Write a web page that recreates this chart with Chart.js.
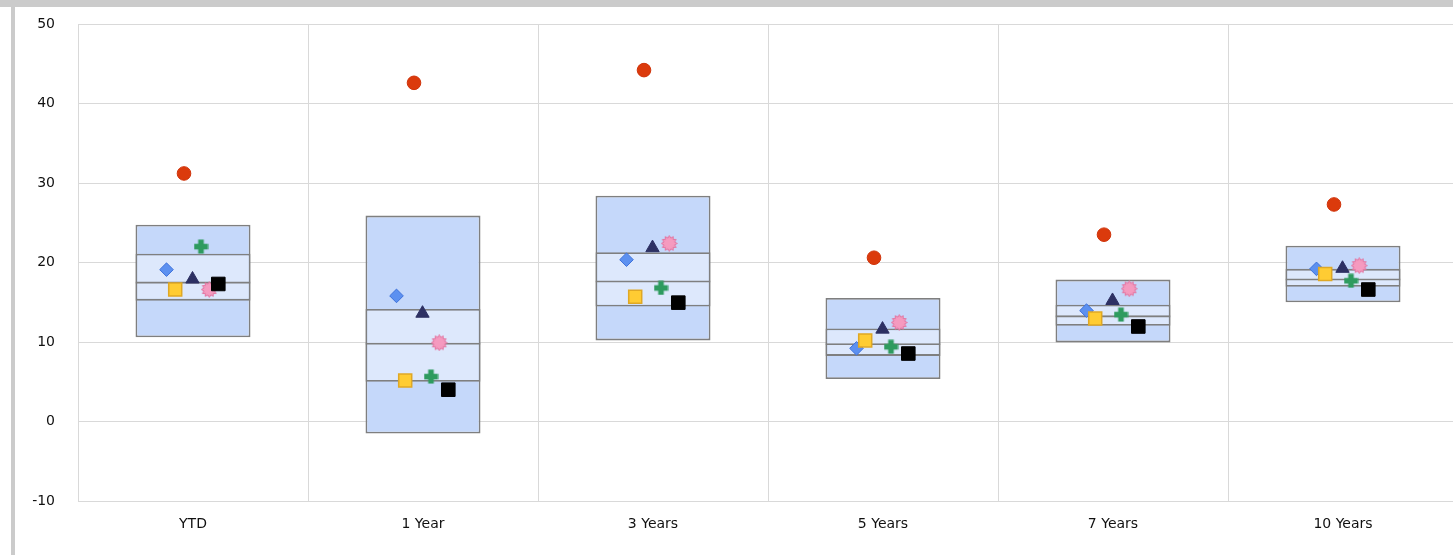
<!DOCTYPE html>
<html>
<head>
<meta charset="utf-8">
<script src="https://cdn.jsdelivr.net/npm/chart.js@4.4.1/dist/chart.umd.min.js"></script>
<style>
    html, body { margin: 0; padding: 0; background: #fff; overflow: hidden; }
    body { width: 1453px; height: 555px; position: relative; }
    #frameTop { position: absolute; left: 0; top: 0; width: 1453px; height: 7px; background: #cbcbcb; }
    #frameLeft { position: absolute; left: 11px; top: 0; width: 4px; height: 555px; background: #cbcbcb; }
    #chartBox { position: absolute; left: 15px; top: 7px; }
</style>
</head>
<body>
<div id="frameTop"></div>
<div id="frameLeft"></div>
<div id="chartBox"><canvas id="rangeChart" width="1443" height="548"></canvas></div>
<script>
const categories = ['YTD', '1 Year', '3 Years', '5 Years', '7 Years', '10 Years'];
const yTicks = [-10, 0, 10, 20, 30, 40, 50];

// box edges, top to bottom
const boxTop    = [24.75, 25.9, 28.4, 15.55, 17.85, 22.1];
const upperLine = [21.1, 14.15, 21.3, 11.7, 14.7, 19.2];
const midLine   = [17.6, 9.9, 17.75, 9.85, 13.35, 18.0];
const lowerLine = [15.2, 5.0, 14.45, 8.25, 12.05, 16.95];
const boxBottom = [10.6, -1.5, 10.2, 5.35, 9.95, 15.0];

// marker series
const diamondVals  = [19.1, 15.8, 20.35, 9.2, 13.95, 19.2];
const yellowVals   = [16.6, 5.15, 15.7, 10.2, 12.95, 18.55];
const circleVals   = [31.2, 42.6, 44.2, 20.6, 23.5, 27.3];
const triangleVals = [17.9, 13.6, 21.85, 11.6, 15.2, 19.25];
const plusVals     = [22.0, 5.65, 16.8, 9.4, 13.45, 17.7];
const starVals     = [16.6, 9.9, 22.4, 12.45, 16.7, 19.6];
const blackVals    = [17.3, 4.0, 14.95, 8.55, 11.95, 16.6];

const catWidthPx = 230;
const lineGray = '#7f7f7f';

function plusCanvas(color) {
    const c = document.createElement('canvas');
    c.width = 15; c.height = 15;
    const g = c.getContext('2d');
    g.fillStyle = color;
    g.fillRect(4.7, 0.5, 5.6, 14);
    g.fillRect(0.5, 4.7, 14, 5.6);
    return c;
}

function starCanvas(fill, stroke) {
    const c = document.createElement('canvas');
    c.width = 17; c.height = 17;
    const g = c.getContext('2d');
    const spikes = 12, outer = 7.9, inner = 5.5, cx = 8.5, cy = 8.5;
    g.beginPath();
    for (let i = 0; i < spikes * 2; i++) {
        const r = i % 2 === 0 ? outer : inner;
        const a = Math.PI * i / spikes - Math.PI / 2;
        const px = cx + Math.cos(a) * r, py = cy + Math.sin(a) * r;
        if (i === 0) g.moveTo(px, py); else g.lineTo(px, py);
    }
    g.closePath();
    g.fillStyle = fill;
    g.fill();
    g.lineWidth = 1;
    g.strokeStyle = stroke;
    g.stroke();
    return c;
}

function band(label, lows, highs, color, border, order) {
    return {
        type: 'bar',
        label,
        data: lows.map((v, i) => [v, highs[i]]),
        backgroundColor: color,
        borderColor: lineGray,
        borderWidth: border,
        borderSkipped: false,
        grouped: false,
        barPercentage: 0.5,
        categoryPercentage: 1,
        order,
        xAxisID: 'x'
    };
}

function markers(label, values, shiftPx, style, order) {
    return Object.assign({
        type: 'scatter',
        label,
        data: values.map((v, i) => ({ x: i + shiftPx / catWidthPx, y: v })),
        xAxisID: 'x2',
        yAxisID: 'y',
        order
    }, style);
}

const outerBlue = '#c5d8fa';
const innerBlue = '#dde8fc';

const datasets = [
    band('box', boxBottom, boxTop, outerBlue, 1.8, 30),
    band('middle', lowerLine, upperLine, innerBlue, 1.8, 25),
    band('median', lowerLine, midLine, 'rgba(0,0,0,0)', { top: 1.8, bottom: 0, left: 0, right: 0 }, 22),
    markers('diamond', diamondVals, -26.5, {
        pointStyle: 'rectRot', pointRadius: 6.8, backgroundColor: '#5c90f0', borderColor: '#3f72db', borderWidth: 1
    }, 7),
    markers('yellow', yellowVals, -17.8, {
        pointStyle: 'rect', pointRadius: 9.2, backgroundColor: '#ffcc33', borderColor: '#dfa825', borderWidth: 1.5
    }, 6),
    markers('circle', circleVals, -9, {
        pointStyle: 'circle', pointRadius: 6.8, backgroundColor: '#db3a0c', borderColor: '#cf330a', borderWidth: 1
    }, 5),
    markers('triangle', triangleVals, -0.5, {
        pointStyle: 'triangle', pointRadius: 7.7, backgroundColor: '#2d3063', borderColor: '#2d3063', borderWidth: 1
    }, 4),
    markers('plus', plusVals, 8, {
        pointStyle: plusCanvas('#2e9b5f'), pointRadius: 7
    }, 3),
    markers('star', starVals, 16.2, {
        pointStyle: starCanvas('#f59abf', '#e2739f'), pointRadius: 8
    }, 2),
    markers('black', blackVals, 25.3, {
        pointStyle: 'rect', pointRadius: 9.6, backgroundColor: '#000', borderColor: '#000', borderWidth: 1
    }, 1)
];

const gridColor = '#d9d9d9';
const tickFont = { family: 'DejaVu Sans', size: 14 };

new Chart(document.getElementById('rangeChart'), {
    type: 'bar',
    data: { labels: categories, datasets },
    options: {
        responsive: false,
        animation: false,
        layout: { autoPadding: false, padding: { top: 17, left: 0, right: 0, bottom: 0 } },
        plugins: { legend: { display: false }, tooltip: { enabled: false } },
        scales: {
            x: {
                type: 'category',
                offset: true,
                grid: { color: gridColor, offset: true, drawTicks: false },
                border: { color: gridColor },
                ticks: { font: tickFont, color: '#111', padding: 15 },
                afterFit: s => { s.height = 54; s.paddingLeft = 0; s.paddingRight = 0; }
            },
            x2: {
                type: 'linear',
                display: false,
                offset: false,
                grace: 0,
                min: -0.5,
                max: categories.length - 0.5
            },
            y: {
                min: yTicks[0],
                max: yTicks[yTicks.length - 1],
                afterBuildTicks: s => { s.ticks = yTicks.map(v => ({ value: v })); },
                grid: { color: gridColor, drawTicks: false },
                border: { display: false },
                ticks: { font: tickFont, color: '#111', padding: 23 },
                afterFit: s => { s.width = 63; s.paddingTop = 0; s.paddingBottom = 0; }
            }
        }
    }
});
</script>
</body>
</html>
